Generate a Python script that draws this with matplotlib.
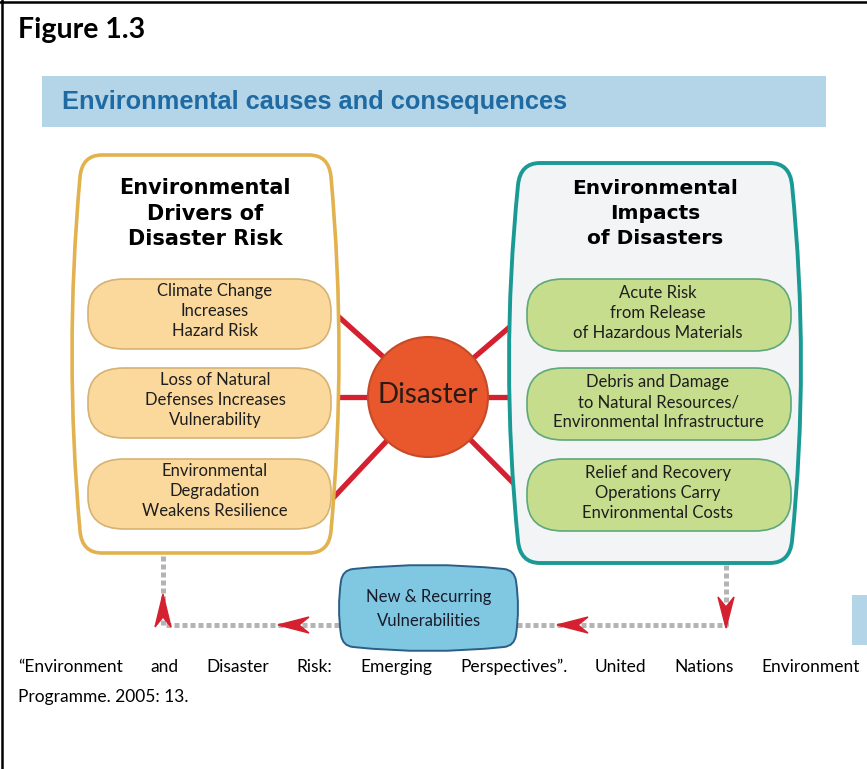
import matplotlib.pyplot as plt
from matplotlib.patches import PathPatch, Polygon, Circle, Rectangle
from matplotlib.path import Path

# texts of the diagram
fig_label = 'Figure 1.3'
band_title = 'Environmental causes and consequences'
left_head = ['Environmental', 'Drivers of', 'Disaster Risk']
right_head = ['Environmental', 'Impacts', 'of Disasters']
drivers = [['Climate Change', 'Increases', 'Hazard Risk'],
           ['Loss of Natural', 'Defenses Increases', 'Vulnerability'],
           ['Environmental', 'Degradation', 'Weakens Resilience']]
impacts = [['Acute Risk', 'from Release', 'of Hazardous Materials'],
           ['Debris and Damage', 'to Natural Resources/', 'Environmental Infrastructure'],
           ['Relief and Recovery', 'Operations Carry', 'Environmental Costs']]
centre_label = 'Disaster'
loop_label = ['New & Recurring', 'Vulnerabilities']
caption_line1 = '\u201cEnvironment and Disaster Risk: Emerging Perspectives\u201d. United Nations Environment'
caption_line2 = 'Programme. 2005: 13.'

W, H = 867, 769
fig = plt.figure(figsize=(W / 100, H / 100), dpi=100)
ax = fig.add_axes([0, 0, 1, 1])
ax.set_xlim(0, W)
ax.set_ylim(H, 0)
ax.axis('off')

body = ['Lato', 'DejaVu Sans']


def meet(p, dp, q, dq):
    # where the line p + s*dp crosses the line q + t*dq
    det = dq[0] * dp[1] - dp[0] * dq[1]
    if abs(det) < 1e-9:
        return q
    rx, ry = q[0] - p[0], q[1] - p[1]
    s = (dq[0] * ry - dq[1] * rx) / det
    return (p[0] + s * dp[0], p[1] + s * dp[1])


def barrel(x0, y0, x1, y1, rx, ry, bulge=0, vbulge=0, **kw):
    # rounded box whose sides bow outward, corners joined smoothly
    mx, my = (x0 + x1) / 2, (y0 + y1) / 2
    edges = [((x0 + rx, y0), (mx, y0 - vbulge), (x1 - rx, y0)),
             ((x1, y0 + ry), (x1 + bulge, my), (x1, y1 - ry)),
             ((x1 - rx, y1), (mx, y1 + vbulge), (x0 + rx, y1)),
             ((x0, y1 - ry), (x0 - bulge, my), (x0, y0 + ry))]
    verts = [edges[0][0]]
    for i, (a, c, b) in enumerate(edges):
        verts += [c, b]
        na, nc, nb = edges[(i + 1) % 4]
        corner = meet(b, (b[0] - c[0], b[1] - c[1]), na, (nc[0] - na[0], nc[1] - na[1]))
        verts += [corner, na]
    verts.append(verts[0])
    codes = [Path.MOVETO] + [Path.CURVE3] * 16 + [Path.CLOSEPOLY]
    p = PathPatch(Path(verts, codes), **kw)
    ax.add_patch(p)
    return p


def stealth(tip, direction, length=31, half=8, notch=10, color='#d4202f'):
    tx, ty = tip
    dx, dy = direction
    px, py = -dy, dx
    pts = [(tx, ty),
           (tx - dx * length + px * half, ty - dy * length + py * half),
           (tx - dx * (length - notch), ty - dy * (length - notch)),
           (tx - dx * length - px * half, ty - dy * length - py * half)]
    ax.add_patch(Polygon(pts, closed=True, color=color, zorder=6))


# page frame
ax.plot([2, 2], [0, H], color='black', lw=1.8)
ax.plot([0, W], [2, 2], color='black', lw=1.8)

ax.text(18, 30, fig_label, fontsize=20.5, fontweight='bold', family=body, va='center')

# title band
ax.add_patch(Rectangle((42, 76), 784, 51, color='#b3d5e7', lw=0))
ax.text(62, 102, band_title, fontsize=18.3, fontweight='bold', color='#1f6aa2',
        family=['Liberation Sans', 'DejaVu Sans'], va='center')

# red spokes (behind boxes)
cx, cy = 428, 397
red = '#d4202f'
for sx, sy in [(320, 300), (320, 397), (320, 512), (540, 301), (540, 397), (540, 510)]:
    ax.plot([sx, cx], [sy, cy], color=red, lw=3.8, solid_capstyle='butt', zorder=1)

# big containers
barrel(80, 155, 331, 553, 22, 22, bulge=16, facecolor='white', edgecolor='#e2b24e', lw=2.6, zorder=2)
barrel(518, 163, 792, 563, 22, 22, bulge=18, facecolor='#f3f4f5', edgecolor='#1a9a94', lw=2.8, zorder=2)

for i, line in enumerate(left_head):
    ax.text(205, 188 + i * 25.5, line, fontsize=15, fontweight='bold', ha='center', va='center',
            family='DejaVu Sans', zorder=5)
for i, line in enumerate(right_head):
    ax.text(655, 188 + i * 25.5, line, fontsize=14.5, fontweight='bold', ha='center', va='center',
            family='DejaVu Sans', zorder=5)

pill_tops = [279, 368, 459]
pill_h = 70
for top, lines in zip(pill_tops, drivers):
    barrel(88, top, 331, top + pill_h, 36, 32, facecolor='#fbd99c', edgecolor='#d6b273', lw=1.2, zorder=3)
    for j, line in enumerate(lines):
        ax.text(215, top + 12 + j * 20, line, fontsize=12, ha='center', va='center',
                family=body, color='#1e1e1e', zorder=5)
for top, lines in zip(pill_tops, impacts):
    barrel(527, top, 791, top + pill_h + 2, 36, 33, facecolor='#c6dd8e', edgecolor='#5ea879', lw=1.2, zorder=3)
    for j, line in enumerate(lines):
        ax.text(658, top + 14 + j * 20, line, fontsize=12, ha='center', va='center',
                family=body, color='#1e1e1e', zorder=5)

# disaster hub
ax.add_patch(Circle((cx, cy), 60, facecolor='#e8582c', edgecolor='#c74a28', lw=1.5, zorder=4))
ax.text(cx, cy - 2, centre_label, fontsize=20, ha='center', va='center', family=body,
        color='#2a1a16', zorder=5)

# feedback loop
grey = '#b4b4b4'
dots = dict(color=grey, lw=3.6, ls=(0, (1.0, 0.6)), solid_capstyle='butt', zorder=1)
ax.plot([163, 163, 342], [556, 625, 625], **dots)
ax.plot([726, 726, 515], [565, 625, 625], **dots)
stealth((163, 594), (0, -1), length=33)
stealth((278, 625), (-1, 0))
stealth((557, 625), (-1, 0))
stealth((726, 628), (0, 1), length=31)

barrel(341, 569, 516, 647, 12, 12, bulge=4, vbulge=8, facecolor='#80c8e1', edgecolor='#2b5e86', lw=1.4, zorder=3)
ax.text(429, 597, loop_label[0], fontsize=12, ha='center', va='center', family=body, color='#1a1a2a', zorder=5)
ax.text(429, 621, loop_label[1], fontsize=12, ha='center', va='center', family=body, color='#1a1a2a', zorder=5)

ax.add_patch(Rectangle((852, 595), 20, 50, color='#b3d5e7', lw=0))

# caption, first line justified between the margins
renderer = fig.canvas.get_renderer()
words = caption_line1.split()
widths = []
for w in words:
    t = ax.text(0, 0, w, fontsize=12.5, family=body)
    widths.append(t.get_window_extent(renderer).width)
    t.remove()
gap = (860 - 18 - sum(widths)) / (len(words) - 1)
x = 18
for w, wd in zip(words, widths):
    ax.text(x, 667, w, fontsize=12.5, family=body, va='center')
    x += wd + gap
ax.text(18, 697, caption_line2, fontsize=12.5, family=body, va='center')

fig.savefig('out.png', dpi=100)
